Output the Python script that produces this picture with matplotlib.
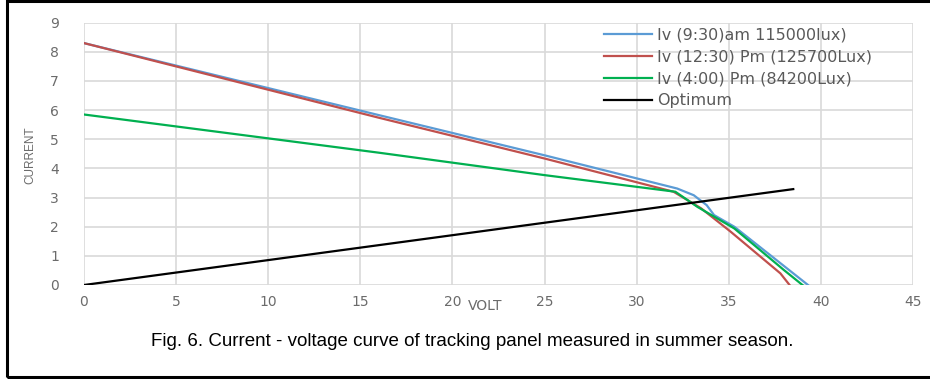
import matplotlib
matplotlib.use("Agg")
import matplotlib.pyplot as plt
from matplotlib.patches import Rectangle

plt.rcParams["font.family"] = ["DejaVu Sans"]

# I-V readings (volt, current)
v_930 = [0, 16, 25, 32.2, 33.1, 33.8, 34.2, 35.3, 39.3]
i_930 = [8.3, 5.83, 4.45, 3.31, 3.08, 2.74, 2.4, 2.0, 0]

v_1230 = [0, 16, 25, 32.0, 33.5, 35.1, 37.8, 38.3]
i_1230 = [8.3, 5.74, 4.34, 3.2, 2.63, 1.83, 0.4, 0]

v_400 = [0, 16, 25, 32.1, 33.3, 35.3, 38.0, 39.0]
i_400 = [5.85, 4.54, 3.77, 3.2, 2.68, 1.94, 0.51, 0]

v_opt = [0, 38.5]
i_opt = [0, 3.29]

labels = ["Iv (9:30)am 115000lux)", "Iv (12:30) Pm (125700Lux)",
          "Iv (4:00) Pm (84200Lux)", "Optimum"]
colors = ["#5b9bd5", "#c0504d", "#00b050", "#000000"]

x_ticks = list(range(0, 50, 5))
y_ticks = list(range(0, 10))

tick_color = "#6b6b6b"

fig = plt.figure(figsize=(9.3, 3.79), dpi=100)
ax = fig.add_axes([84 / 930, 1 - 285 / 379, (913 - 84) / 930, (285 - 22.7) / 379])

series = [(v_930, i_930), (v_1230, i_1230), (v_400, i_400), (v_opt, i_opt)]
for (v, i), lab, c in zip(series, labels, colors):
    ax.plot(v, i, color=c, lw=1.6, label=lab)

ax.set_xlim(0, 45)
ax.set_ylim(0, 9)
ax.set_xticks(x_ticks)
ax.set_yticks(y_ticks)
ax.grid(True, color="#d9d9d9", lw=1.2)
ax.set_axisbelow(True)
for s in ax.spines.values():
    s.set_visible(False)
ax.tick_params(length=0, colors=tick_color, labelsize=10)
ax.tick_params(axis="x", pad=7)
ax.tick_params(axis="y", pad=18)

fig.text(485 / 930, 1 - 306 / 379, "VOLT", color=tick_color, fontsize=10,
         ha="center", va="center")
fig.text(30 / 930, 1 - 155 / 379, "CURRENT", rotation=90, color=tick_color,
         fontsize=8.5, ha="center", va="center", family="Liberation Sans")

leg = ax.legend(loc="upper left", bbox_to_anchor=(598 / 930, 1 - 21 / 379),
                bbox_transform=fig.transFigure, frameon=False, fontsize=11.5,
                handlelength=3.0, handletextpad=0.3, labelspacing=0.44,
                borderaxespad=0)
for t in leg.get_texts():
    t.set_color("#595959")

fig.text(472 / 930, 1 - 341 / 379,
         "Fig. 6. Current - voltage curve of tracking panel measured in summer season.",
         family="Liberation Sans", fontsize=13.5, ha="center", va="center")

fig.patches.append(Rectangle((7 / 930, 2 / 379), 930 / 930, 376 / 379,
                             transform=fig.transFigure, fill=False,
                             edgecolor="black", lw=2.2))

fig.savefig("out.png", dpi=100)
